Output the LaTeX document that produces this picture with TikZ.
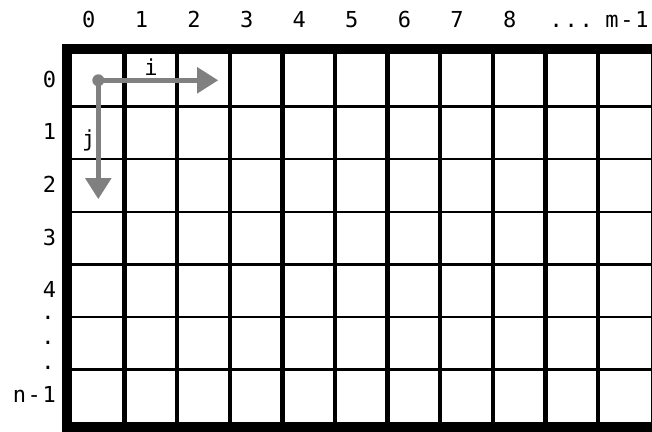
\documentclass[tikz,border=0pt]{standalone}
\usepackage{fontspec}
\usetikzlibrary{arrows.meta}
\newfontfamily\gridfont{DejaVu Sans Mono}[LetterSpace=8]
\definecolor{arrowgray}{RGB}{128,128,128}

\begin{document}
\begin{tikzpicture}[
    x=52.6pt,
    y=-52.6pt,
    index/.style={
        inner sep=0pt,
        anchor=base,
        font=\gridfont\fontsize{22}{26}\selectfont
    },
    rowindex/.style={index, anchor=base east},
    rowline/.style={line width=2.5pt},
    colline/.style={line width=4.5pt},
    border/.style={line width=10pt},
    axis/.style={
        draw=arrowgray,
        line width=5pt,
        -{Triangle[length=21pt, width=25pt]}
    }
]
\useasboundingbox (-72pt,54pt) rectangle (580pt,-377pt);

% ---------------- GRID ----------------
\draw[rowline] (0,1) -- (11,1);
\draw[rowline] (0,2) -- (11,2);
\draw[rowline] (0,3) -- (11,3);
\draw[rowline] (0,4) -- (11,4);
\draw[rowline] (0,5) -- (11,5);
\draw[rowline] (0,6) -- (11,6);

\draw[colline] (1,0)  -- (1,7);
\draw[colline] (2,0)  -- (2,7);
\draw[colline] (3,0)  -- (3,7);
\draw[colline] (4,0)  -- (4,7);
\draw[colline] (5,0)  -- (5,7);
\draw[colline] (6,0)  -- (6,7);
\draw[colline] (7,0)  -- (7,7);
\draw[colline] (8,0)  -- (8,7);
\draw[colline] (9,0)  -- (9,7);
\draw[colline] (10,0) -- (10,7);

\draw[border] ([xshift=-5pt, yshift=5pt]0,0) rectangle ([xshift=5pt, yshift=-5pt]11,7);

% ---------------- COLUMN INDICES ----------------
\node[index] (c0)  at (0.32,-0.508)  {0};
\node[index] (c1)  at (1.32,-0.508)  {1};
\node[index] (c2)  at (2.32,-0.508)  {2};
\node[index] (c3)  at (3.32,-0.508)  {3};
\node[index] (c4)  at (4.32,-0.508)  {4};
\node[index] (c5)  at (5.32,-0.508)  {5};
\node[index] (c6)  at (6.32,-0.508)  {6};
\node[index] (c7)  at (7.32,-0.508)  {7};
\node[index] (c8)  at (8.32,-0.508)  {8};
\node[index] (cdots) at (9.49,-0.508) {...};
\node[index] (cm)  at (10.55,-0.508) {m-1};

% ---------------- ROW INDICES ----------------
\node[rowindex] (r0)  at (-0.30,0.633) {0};
\node[rowindex] (r1)  at (-0.30,1.633) {1};
\node[rowindex] (r2)  at (-0.30,2.633) {2};
\node[rowindex] (r3)  at (-0.30,3.633) {3};
\node[rowindex] (r4)  at (-0.30,4.633) {4};
\node[index]    (rd1) at (-0.456,5.05)  {.};
\node[index]    (rd2) at (-0.456,5.52)  {.};
\node[index]    (rd3) at (-0.456,6.00)  {.};
\node[rowindex] (rn)  at (-0.30,6.633) {n-1};

% ---------------- AXES ----------------
\node[circle, fill=arrowgray, minimum size=12pt, inner sep=0pt] (org) at (0.5,0.5) {};
\coordinate (iend) at (2.78,0.5);
\coordinate (jend) at (0.5,2.76);
\draw[axis] (org.center) -- (iend);
\draw[axis] (org.center) -- (jend);
\node[index] (ilbl) at (1.50,0.418) {i};
\node[index] (jlbl) at (0.32,1.75)  {j};

\end{tikzpicture}
\end{document}
